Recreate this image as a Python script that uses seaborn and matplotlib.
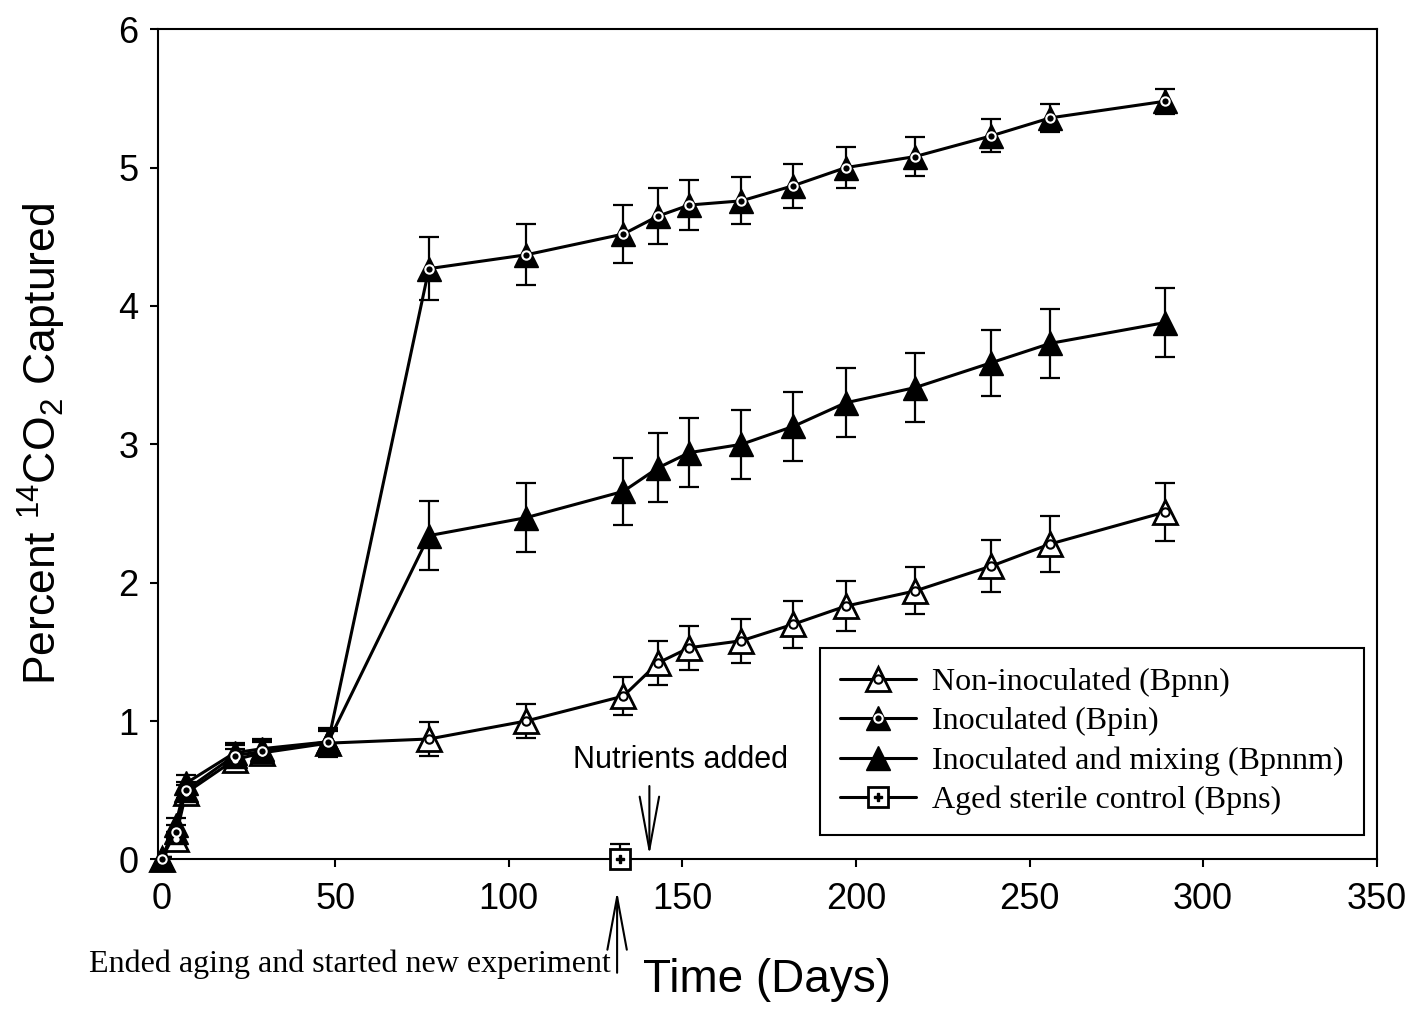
import matplotlib.pyplot as plt
import numpy as np
import pandas as pd
import seaborn as sns
from matplotlib.lines import Line2D

# --- values ---
days = [0, 4, 7, 21, 29, 48, 77, 105, 133, 143, 152, 167, 182, 197, 217, 239, 256, 289]

bpnn = [0, 0.15, 0.48, 0.72, 0.77, 0.84, 0.87, 1.00, 1.18, 1.42, 1.53, 1.58,
        1.70, 1.83, 1.94, 2.12, 2.28, 2.51]
bpnn_err = [0.02, 0.05, 0.06, 0.08, 0.08, 0.10, 0.12, 0.12, 0.14, 0.16, 0.16, 0.16,
            0.17, 0.18, 0.17, 0.19, 0.20, 0.21]

bpin = [0, 0.20, 0.50, 0.75, 0.78, 0.85, 4.27, 4.37, 4.52, 4.65, 4.73, 4.76,
        4.87, 5.00, 5.08, 5.23, 5.36, 5.48]
bpin_err = [0.02, 0.05, 0.06, 0.08, 0.08, 0.10, 0.23, 0.22, 0.21, 0.20, 0.18, 0.17,
            0.16, 0.15, 0.14, 0.12, 0.10, 0.09]

bpnnm = [0, 0.25, 0.55, 0.77, 0.80, 0.85, 2.34, 2.47, 2.66, 2.83, 2.94, 3.00,
         3.13, 3.30, 3.41, 3.59, 3.73, 3.88]
bpnnm_err = [0.02, 0.05, 0.06, 0.07, 0.07, 0.08, 0.25, 0.25, 0.24, 0.25, 0.25, 0.25,
             0.25, 0.25, 0.25, 0.24, 0.25, 0.25]

bpns_days = [132]
bpns = [0.0]
bpns_err = [0.11]

labels = ["Non-inoculated (Bpnn)", "Inoculated (Bpin)",
          "Inoculated and mixing (Bpnnm)", "Aged sterile control (Bpns)"]

sns.set_style("ticks")
plt.rcParams["font.family"] = ["Liberation Sans", "DejaVu Sans"]
plt.rcParams["mathtext.default"] = "regular"
plt.rcParams["text.color"] = "black"
plt.rcParams["axes.labelcolor"] = "black"
plt.rcParams["xtick.color"] = "black"
plt.rcParams["ytick.color"] = "black"

fig, ax = plt.subplots(figsize=(14.12, 10.11), dpi=100)
fig.subplots_adjust(left=0.112, right=0.975, bottom=0.150, top=0.971)

ms = 17
err_kw = dict(fmt="none", ecolor="black", elinewidth=1.6, capsize=7, capthick=1.6,
              zorder=2)

# error bars first
ax.errorbar(days, bpnn, yerr=bpnn_err, **err_kw)
ax.errorbar(days, bpin, yerr=bpin_err, **err_kw)
ax.errorbar(days, bpnnm, yerr=bpnnm_err, **err_kw)
ax.errorbar(bpns_days, bpns, yerr=bpns_err, **err_kw)

line_kw = dict(ax=ax, color="black", lw=2.2, legend=False, clip_on=False, zorder=3)

# non-inoculated: open triangle with dot
sns.lineplot(x=days, y=bpnn, marker="^", markersize=ms, mfc="white", mec="black",
             mew=2, **line_kw)
ax.plot(days, bpnn, ls="none", marker="o", ms=6, mfc="white", mec="black", mew=1.5,
        zorder=4, clip_on=False)

# inoculated and mixing: filled triangle
sns.lineplot(x=days, y=bpnnm, marker="^", markersize=ms, mfc="black", mec="black",
             mew=1, **line_kw)

# inoculated: filled triangle with white ring
sns.lineplot(x=days, y=bpin, marker="^", markersize=ms, mfc="black", mec="black",
             mew=1, **line_kw)
ax.plot(days, bpin, ls="none", marker="o", ms=6, mfc="black", mec="white", mew=1.5,
        zorder=4, clip_on=False)

# sterile control: open square with cross
sns.lineplot(x=bpns_days, y=bpns, marker="s", markersize=14, mfc="white", mec="black",
             mew=2, **line_kw)
ax.plot(bpns_days, bpns, ls="none", marker="P", ms=6, color="black", zorder=4,
        clip_on=False)

ax.set_xlim(-1, 350)
ax.set_ylim(0, 6)
ax.set_xticks(np.arange(0, 351, 50))
ax.set_yticks(np.arange(0, 7, 1))
ax.tick_params(direction="out", length=6, width=1.5, labelsize=26, pad=8)
ax.tick_params(axis="x", pad=10)
for sp in ax.spines.values():
    sp.set_visible(True)
    sp.set_linewidth(1.5)
    sp.set_color("black")

ax.set_xlabel("Time (Days)", fontsize=33, labelpad=30)
ax.set_ylabel("Percent $^{14}$CO$_2$ Captured", fontsize=32, labelpad=36)

# legend
h_nn = (Line2D([], [], color="black", lw=2.2, marker="^", ms=ms, mfc="white", mec="black", mew=2),
        Line2D([], [], ls="none", marker="o", ms=6, mfc="white", mec="black", mew=1.5))
h_in = (Line2D([], [], color="black", lw=2.2, marker="^", ms=ms, mfc="black", mec="black"),
        Line2D([], [], ls="none", marker="o", ms=6, mfc="black", mec="white", mew=1.5))
h_nm = Line2D([], [], color="black", lw=2.2, marker="^", ms=ms, mfc="black", mec="black")
h_ns = (Line2D([], [], color="black", lw=2.2, marker="s", ms=14, mfc="white", mec="black", mew=2),
        Line2D([], [], ls="none", marker="P", ms=6, color="black"))
leg = ax.legend([h_nn, h_in, h_nm, h_ns], labels, loc="upper left",
                bbox_to_anchor=(0.543, 0.255), borderaxespad=0,
                prop={"family": ["Liberation Serif"], "size": 23},
                handlelength=2.4, labelspacing=0.31, handletextpad=0.5,
                borderpad=0.62, fancybox=False, framealpha=1, edgecolor="black")
leg.get_frame().set_linewidth(1.5)

# annotations
ax.annotate("", xy=(140.5, 0.01), xytext=(140.5, 0.55),
            arrowprops=dict(arrowstyle="->,head_length=1.9,head_width=0.35",
                            lw=1.5, color="black", mutation_scale=20))
ax.text(149.5, 0.72, "Nutrients added", fontsize=22, ha="center", va="center")

ax.annotate("", xy=(131.2, -0.21), xytext=(131.2, -0.84), annotation_clip=False,
            arrowprops=dict(arrowstyle="->,head_length=1.9,head_width=0.35",
                            lw=1.5, color="black", mutation_scale=20))
ax.text(129.5, -0.76, "Ended aging and started new experiment", fontsize=23,
        family=["Liberation Serif"], ha="right", va="center", clip_on=False)

plt.savefig("out.png", dpi=100)
